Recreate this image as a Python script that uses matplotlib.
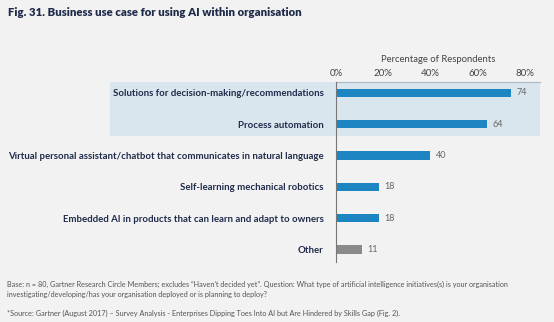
import matplotlib
matplotlib.use("Agg")
import matplotlib.pyplot as plt
from matplotlib.patches import Rectangle
import matplotlib.transforms as mtransforms
from matplotlib.ticker import FuncFormatter

categories = [
    "Solutions for decision-making/recommendations",
    "Process automation",
    "Virtual personal assistant/chatbot that communicates in natural language",
    "Self-learning mechanical robotics",
    "Embedded AI in products that can learn and adapt to owners",
    "Other",
]
values = [74, 64, 40, 18, 18, 11]
bar_colors = ["#1d86c2", "#1d86c2", "#1d86c2", "#1d86c2", "#1d86c2", "#8a8a8a"]
xticks = [0, 20, 40, 60, 80]

title = "Fig. 31. Business use case for using AI within organisation"
xlabel = "Percentage of Respondents"
note1 = ("Base: n = 80, Gartner Research Circle Members; excludes \u201cHaven\u2019t decided yet\u201d. Question: What type of artificial intelligence initiatives(s) is your organisation\n"
         "investigating/developing/has your organisation deployed or is planning to deploy?")
note2 = "*Source: Gartner (August 2017) \u2013 Survey Analysis - Enterprises Dipping Toes Into AI but Are Hindered by Skills Gap (Fig. 2)."

W, H = 554, 322
bg = "#f2f2f2"
navy = "#1f2b4a"
fig = plt.figure(figsize=(W / 100, H / 100), dpi=100, facecolor=bg)

ax_left = 336 / W
ax_right = 540 / W
ax_top = 1 - 82 / H
ax_bot = 1 - 262 / H
ax = fig.add_axes([ax_left, ax_bot, ax_right - ax_left, ax_top - ax_bot])
ax.set_facecolor("none")

ypos = list(range(len(categories)))
ax.set_xlim(0, 86.4)
ax.set_ylim(5.4, -0.35)

# highlight band behind first two rows
trans = mtransforms.blended_transform_factory(fig.transFigure, ax.transData)
rect = Rectangle((110 / W, -0.35), (540 - 110) / W, 1.71, transform=trans,
                 facecolor="#dae6ee", edgecolor="none", clip_on=False, zorder=0)
ax.add_patch(rect)

ax.barh(ypos, values, height=0.27, color=bar_colors, zorder=3)
for y, v in zip(ypos, values):
    ax.text(v + 2.3, y, str(v), va="center", ha="left", fontsize=6.5,
            color="#666666", family="Lato")

ax.set_yticks(ypos)
ax.set_yticklabels(categories, fontsize=6.9, fontweight="bold", color=navy, family="Lato")
ax.tick_params(axis="y", length=0, pad=9)

ax.xaxis.tick_top()
ax.xaxis.set_label_position("top")
ax.set_xticks(xticks)
ax.xaxis.set_major_formatter(FuncFormatter(lambda v, p: f"{int(v)}%"))
ax.tick_params(axis="x", length=0, pad=3, labelsize=7, labelcolor="#444444")
for lbl in ax.get_xticklabels():
    lbl.set_family("Lato")
ax.set_xlabel(xlabel, fontsize=6.8, color="#444444", labelpad=5, family="Lato")

for s in ["right", "bottom"]:
    ax.spines[s].set_visible(False)
ax.spines["left"].set_color("#777777")
ax.spines["left"].set_linewidth(0.8)
ax.spines["left"].set_zorder(4)
ax.spines["top"].set_color("#a9b8c4")
ax.spines["top"].set_linewidth(0.8)

fig.text(8 / W, 1 - 13 / H, title, fontsize=8.2, fontweight="heavy", color=navy,
         family="Lato", va="center", ha="left")
fig.text(7 / W, 1 - 289 / H, note1, fontsize=5.2, color="#555555", family="Lato",
         va="center", ha="left", linespacing=1.5)
fig.text(7 / W, 1 - 313 / H, note2, fontsize=5.2, color="#555555", family="Lato",
         va="center", ha="left")

fig.savefig("out.png", dpi=100, facecolor=bg)
